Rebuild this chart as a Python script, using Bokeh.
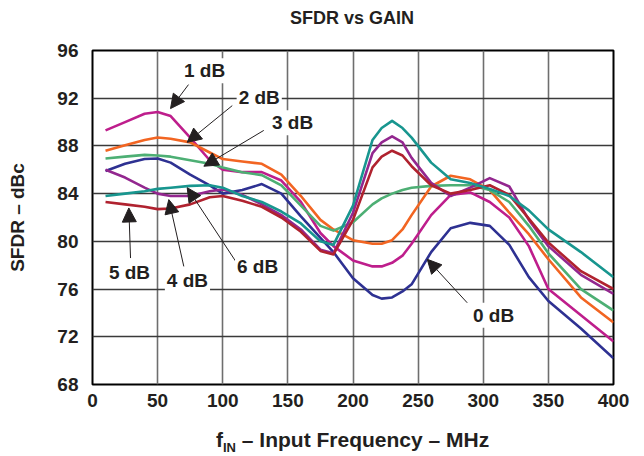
from bokeh.plotting import figure
from bokeh.models import Range1d, FixedTicker, Label, Arrow, NormalHead, Div
from bokeh.layouts import column
from bokeh.embed import file_html
from bokeh.resources import INLINE

# ---------------- data ----------------
freq_mhz = [10, 25, 40, 50, 60, 75, 90, 100, 115, 130, 145, 160, 175, 185, 200,
            215, 222, 230, 238, 245, 260, 275, 290, 305, 320, 335, 350, 375, 400]

sfdr_0db = [85.9, 86.5, 86.9, 86.95, 86.6, 85.6, 84.7, 84.0, 84.3, 84.8, 84.0, 82.1, 80.3, 79.1, 76.9,
            75.5, 75.2, 75.3, 75.8, 76.4, 79.1, 81.1, 81.55, 81.3, 79.7, 77.0, 75.0, 72.7, 70.2]
sfdr_1db = [89.3, 90.0, 90.7, 90.85, 90.5, 88.7, 86.8, 86.0, 85.8, 85.8, 85.1, 83.3, 80.7, 79.6, 78.4,
            77.9, 77.9, 78.2, 78.8, 79.8, 82.2, 83.9, 84.1, 83.3, 82.0, 79.6, 76.0, 73.8, 71.6]
sfdr_2db = [87.6, 88.05, 88.5, 88.7, 88.6, 88.3, 87.45, 86.9, 86.7, 86.5, 85.6, 83.8, 81.8, 81.0, 80.1,
            79.8, 79.8, 80.1, 81.0, 82.2, 84.6, 85.5, 85.2, 84.3, 82.4, 80.6, 78.5, 75.3, 73.2]
sfdr_3db = [86.95, 87.1, 87.25, 87.2, 87.1, 86.8, 86.5, 86.2, 85.8, 85.55, 84.7, 83.0, 81.3, 80.9, 81.6,
            83.1, 83.6, 84.0, 84.3, 84.5, 84.65, 84.7, 84.7, 84.3, 83.3, 81.3, 79.0, 76.0, 74.2]
sfdr_4db = [86.0, 85.35, 84.5, 84.0, 83.8, 83.8, 84.2, 84.35, 83.9, 83.1, 82.2, 81.0, 79.3, 79.0, 82.4,
            87.4, 88.3, 88.8, 88.3, 87.0, 84.9, 83.8, 84.5, 85.3, 84.6, 81.8, 79.6, 77.2, 75.6]
sfdr_5db = [83.3, 83.1, 82.9, 82.7, 82.75, 83.1, 83.7, 83.8, 83.4, 82.9, 82.0, 80.8, 79.2, 78.9, 81.8,
            86.2, 87.1, 87.6, 87.2, 86.3, 84.7, 84.0, 84.3, 84.7, 83.9, 81.9, 79.9, 77.5, 76.0]
sfdr_6db = [83.8, 84.0, 84.2, 84.4, 84.5, 84.65, 84.7, 84.5, 83.8, 83.3, 82.5, 81.5, 80.0, 79.7, 83.0,
            88.5, 89.5, 90.1, 89.5, 88.7, 86.6, 85.2, 84.9, 84.4, 83.8, 82.6, 81.0, 79.1, 77.0]

x_ticks = [0, 50, 100, 150, 200, 250, 300, 350, 400]
y_ticks = [68, 72, 76, 80, 84, 88, 92, 96]

gain_labels = ["0 dB", "1 dB", "2 dB", "3 dB", "4 dB", "5 dB", "6 dB"]
series_values = [sfdr_0db, sfdr_1db, sfdr_2db, sfdr_3db, sfdr_4db, sfdr_5db, sfdr_6db]
series_colors = ["#2E3192", "#BE1E8C", "#F26522", "#4DAF74", "#93278F", "#B0222F", "#18968F"]

# annotation text position and arrow (tail -> head), in data units
label_pos = {"1 dB": (86, 94.3), "2 dB": (128, 92.1), "3 dB": (153.6, 89.95),
             "5 dB": (28.4, 77.43), "4 dB": (72.9, 76.76), "6 dB": (126.7, 77.9),
             "0 dB": (307.9, 73.8)}
arrow_pos = {"1 dB": (73.7, 93.14, 59.9, 91.13), "2 dB": (107.3, 91.38, 72.7, 88.3),
             "3 dB": (131.5, 89.3, 85.5, 86.3), "5 dB": (29.2, 78.6, 27.9, 82.8),
             "4 dB": (70.1, 77.9, 58.6, 83.5), "6 dB": (109.8, 78.35, 72.7, 84.5),
             "0 dB": (287.7, 74.85, 257.0, 78.5)}

FONT = "Liberation Sans"
INK = "#231F20"

p = figure(width=636, height=386, output_backend="svg", toolbar_location=None,
           x_range=Range1d(0, 400), y_range=Range1d(68, 96),
           min_border_left=92, min_border_right=23, min_border_top=20, min_border_bottom=32,
           margin=0)
p.background_fill_color = "white"
p.outline_line_color = "black"
p.outline_line_width = 2

p.xaxis.ticker = FixedTicker(ticks=x_ticks)
p.yaxis.ticker = FixedTicker(ticks=y_ticks)
for ax in (p.xaxis, p.yaxis):
    ax.major_tick_line_color = None
    ax.minor_tick_line_color = None
    ax.major_tick_out = 0
    ax.major_tick_in = 0
    ax.minor_tick_out = 0
    ax.minor_tick_in = 0
    ax.axis_line_color = None
    ax.major_label_text_font = FONT
    ax.major_label_text_font_style = "bold"
    ax.major_label_text_font_size = "19px"
    ax.major_label_text_color = INK
p.yaxis.major_label_standoff = 14
p.xaxis.major_label_standoff = 9
p.yaxis.axis_label = "SFDR \u2013 dBc"
p.yaxis.axis_label_text_font = FONT
p.yaxis.axis_label_text_font_style = "bold"
p.yaxis.axis_label_text_font_size = "19px"
p.yaxis.axis_label_text_color = INK
p.yaxis.axis_label_standoff = 26

p.xgrid.grid_line_color = "#6e6e6e"
p.xgrid.grid_line_width = 1.6
p.ygrid.grid_line_color = "#3a3a3a"
p.ygrid.grid_line_width = 1.3

for vals, col in zip(series_values, series_colors):
    p.line(freq_mhz, vals, line_color=col, line_width=2.6, line_join="round")

for name in gain_labels:
    xs, ys, xe, ye = arrow_pos[name]
    p.add_layout(Arrow(end=NormalHead(size=14, fill_color=INK, line_color=INK, line_width=1),
                       x_start=xs, y_start=ys, x_end=xe, y_end=ye,
                       line_color=INK, line_width=1))
for name in gain_labels:
    lx, ly = label_pos[name]
    p.add_layout(Label(x=lx, y=ly, text=name, text_align="center", text_baseline="middle",
                       text_font=FONT, text_font_style="bold", text_font_size="19px",
                       text_color=INK, background_fill_color="white", padding=2))

title = Div(
    text=('<div style="box-sizing:border-box;width:636px;padding-left:68px;padding-top:6px;'
          'line-height:24px;text-align:center;white-space:nowrap;'
          'font-family:\'Liberation Sans\';font-weight:bold;font-size:18px;color:#231F20;">'
          'SFDR vs GAIN</div>'),
    width=636, height=30, margin=0)

xlabel = Div(
    text=('<div style="box-sizing:border-box;padding-left:216px;padding-top:12px;line-height:24px;'
          'white-space:nowrap;'
          'font-family:\'Liberation Sans\';font-weight:bold;font-size:21px;color:#231F20;">'
          'f<sub style="font-size:13px;line-height:0;">IN</sub> \u2013 Input Frequency \u2013 MHz</div>'),
    width=636, height=40, margin=0)

layout = column(title, p, xlabel, spacing=0)
open("out.html", "w").write(file_html(layout, INLINE))
